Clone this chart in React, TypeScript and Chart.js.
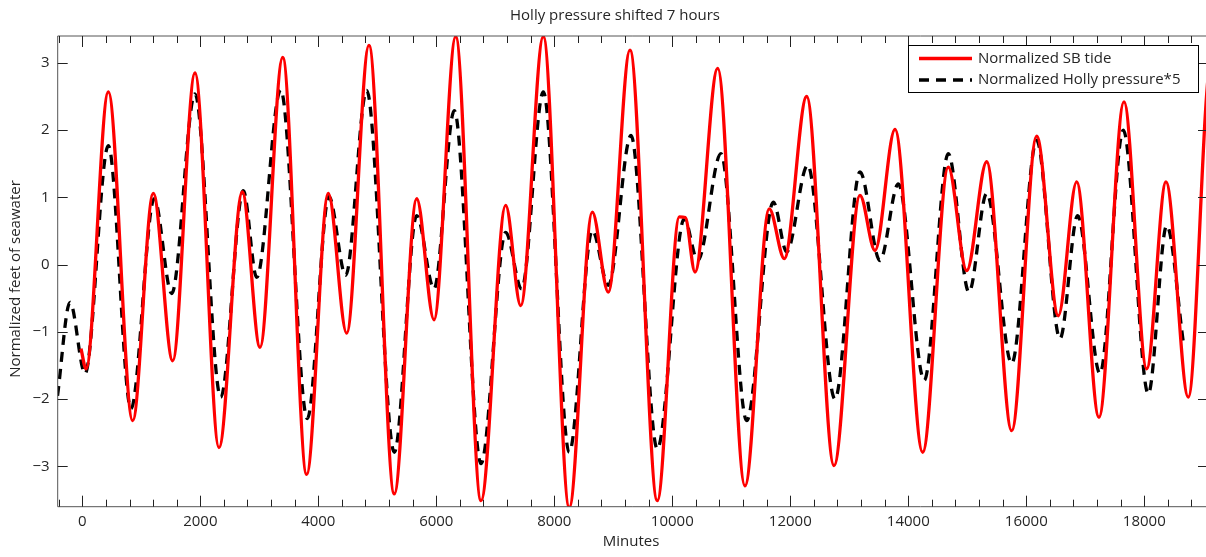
import React, { useEffect, useRef } from "react";
import { Chart, registerables } from "chart.js";

Chart.register(...registerables);

// Normalized SB tide (red, solid): [minutes, value]
const tideX = [-22, 63, 441, 854, 1203, 1532, 1910, 2317, 2712, 3012, 3397, 3803, 4169, 4481, 4859, 5288, 5668, 5961, 6329, 6758, 7176, 7431, 7814, 8254, 8644, 8915, 9283, 9746, 10120, 10220, 10385, 10769, 11232, 11644, 11898, 12278, 12741, 13181, 13436, 13775, 14244, 14678, 14990, 15329, 15753, 16176, 16542, 16854, 17232, 17656, 18041, 18368, 18746, 19130, 19600];
const tideY = [-1.25, -1.55, 2.57, -2.32, 1.06, -1.43, 2.85, -2.72, 1.08, -1.23, 3.08, -3.12, 1.06, -1.02, 3.26, -3.41, 0.98, -0.82, 3.39, -3.51, 0.88, -0.61, 3.39, -3.61, 0.78, -0.41, 3.19, -3.51, 0.71, 0.70, -0.11, 2.92, -3.29, 0.83, 0.09, 2.5, -2.99, 1.03, 0.21, 2.01, -2.79, 1.45, -0.09, 1.53, -2.47, 1.91, -0.76, 1.23, -2.27, 2.42, -1.55, 1.23, -1.97, 3.0, -2.0];

// Normalized Holly pressure*5 (black, dashed): [minutes, value]
const hollyX = [-420, -208, 46, 441, 825, 1220, 1515, 1910, 2346, 2729, 2956, 3363, 3814, 4181, 4464, 4820, 5288, 5668, 5961, 6305, 6758, 7176, 7447, 7814, 8254, 8644, 8915, 9300, 9746, 10203, 10431, 10825, 11261, 11712, 11939, 12295, 12758, 13181, 13520, 13831, 14271, 14678, 15029, 15329, 15753, 16176, 16571, 16871, 17249, 17644, 18068, 18380, 18664];
const hollyY = [-1.95, -0.56, -1.62, 1.77, -2.14, 0.98, -0.43, 2.54, -1.97, 1.1, -0.19, 2.6, -2.29, 1.01, -0.16, 2.59, -2.79, 0.73, -0.36, 2.29, -2.96, 0.48, -0.36, 2.57, -2.79, 0.51, -0.31, 1.92, -2.74, 0.68, 0.06, 1.65, -2.32, 0.93, 0.19, 1.48, -2.0, 1.38, 0.06, 1.2, -1.72, 1.65, -0.41, 1.06, -1.47, 1.85, -1.1, 0.73, -1.62, 2.0, -1.92, 0.58, -1.17];

const xTickValues = [0, 2000, 4000, 6000, 8000, 10000, 12000, 14000, 16000, 18000];
const yTickValues = [-3, -2, -1, 0, 1, 2, 3];

const seriesNames = ["Normalized SB tide", "Normalized Holly pressure*5"];
const chartTitle = "Holly pressure shifted 7 hours";
const xTitle = "Minutes";
const yTitle = "Normalized feet of seawater";

const FONT = "'Open Sans', 'DejaVu Sans', sans-serif";
const TEXT = "#262626";
const AXIS = "#555555";
const DASH = [10, 7];

const fmt = (v: number) => String(v).replace("-", "\u2212");

const decorPlugin = {
  id: "decor",
  afterDraw(chart: any) {
    const { ctx, chartArea: a, scales } = chart;
    const xs = scales.x;
    const ys = scales.y;
    ctx.save();
    // frame
    ctx.strokeStyle = AXIS;
    ctx.lineWidth = 1;
    ctx.beginPath();
    ctx.moveTo(a.left, a.top);
    ctx.lineTo(a.right, a.top);
    ctx.moveTo(a.left, a.top);
    ctx.lineTo(a.left, a.bottom);
    ctx.lineTo(a.right, a.bottom);
    ctx.lineTo(a.right, a.top);
    ctx.stroke();
    // x ticks (inward, top and bottom)
    ctx.strokeStyle = "#222";
    ctx.beginPath();
    for (let v = -400; v <= 19000; v += 400) {
      const px = Math.round(xs.getPixelForValue(v)) + 0.5;
      const len = v % 2000 === 0 ? 11 : 7;
      ctx.moveTo(px, a.bottom);
      ctx.lineTo(px, a.bottom - len);
      ctx.moveTo(px, a.top);
      ctx.lineTo(px, a.top + len);
    }
    for (const v of yTickValues) {
      const py = Math.round(ys.getPixelForValue(v)) + 0.5;
      ctx.moveTo(a.left, py);
      ctx.lineTo(a.left + 10, py);
      ctx.moveTo(a.right, py);
      ctx.lineTo(a.right - 10, py);
    }
    ctx.stroke();

    // titles
    ctx.fillStyle = TEXT;
    ctx.font = `15px ${FONT}`;
    ctx.textAlign = "center";
    ctx.textBaseline = "middle";
    ctx.fillText(chartTitle, 615, 16);
    ctx.fillText(xTitle, 631, 542);
    ctx.save();
    ctx.translate(16, 279);
    ctx.rotate(-Math.PI / 2);
    ctx.fillText(yTitle, 0, 0);
    ctx.restore();

    // legend
    const ds = chart.data.datasets;
    const bx = 908.5, by = 45.5, bw = 290, bh = 47;
    ctx.fillStyle = "#ffffff";
    ctx.fillRect(bx, by, bw, bh);
    ctx.strokeStyle = "#000";
    ctx.lineWidth = 1;
    ctx.strokeRect(bx, by, bw, bh);
    const rows = [58.5, 80];
    ds.forEach((d: any, i: number) => {
      ctx.save();
      ctx.strokeStyle = d.borderColor;
      ctx.lineWidth = d.borderWidth;
      ctx.setLineDash(d.borderDash || []);
      ctx.beginPath();
      ctx.moveTo(919, rows[i]);
      ctx.lineTo(972, rows[i]);
      ctx.stroke();
      ctx.restore();
      ctx.fillStyle = TEXT;
      ctx.font = `15px ${FONT}`;
      ctx.textAlign = "left";
      ctx.textBaseline = "middle";
      ctx.fillText(d.label, 978, rows[i]);
    });
    ctx.restore();
  },
};

export default function App() {
  const ref = useRef<HTMLCanvasElement | null>(null);
  useEffect(() => {
    if (!ref.current) return;
    const chart = new Chart(ref.current, {
      type: "line",
      data: {
        datasets: [
          {
            label: seriesNames[0],
            data: tideX.map((x, i) => ({ x, y: tideY[i] })),
            borderColor: "#ff0000",
            borderWidth: 3.3,
            pointRadius: 0,
            cubicInterpolationMode: "monotone",
            fill: false,
            clip: 0,
          },
          {
            label: seriesNames[1],
            data: hollyX.map((x, i) => ({ x, y: hollyY[i] })),
            borderColor: "#000000",
            borderWidth: 3.3,
            borderDash: DASH,
            pointRadius: 0,
            cubicInterpolationMode: "monotone",
            fill: false,
            clip: 0,
          },
        ],
      },
      options: {
        animation: false,
        responsive: false,
        devicePixelRatio: 1,
        events: [],
        layout: { padding: { top: 36, right: 6, left: 0, bottom: 0 } },
        plugins: {
          legend: { display: false },
          title: { display: false },
          tooltip: { enabled: false },
        },
        scales: {
          x: {
            type: "linear",
            position: "bottom",
            min: -417,
            max: 19080,
            grid: { display: false, drawTicks: false },
            border: { display: false },
            afterBuildTicks: (s: any) => {
              s.ticks = xTickValues.map((v) => ({ value: v }));
            },
            afterFit: (s: any) => {
              s.height = 50.3;
            },
            ticks: {
              padding: 6,
              maxRotation: 0,
              autoSkip: false,
              color: TEXT,
              font: { family: FONT, size: 15 },
              callback: (v: any) => fmt(Number(v)),
            },
          },
          y: {
            type: "linear",
            position: "left",
            min: -3.6,
            max: 3.4,
            grid: { display: false, drawTicks: false },
            border: { display: false },
            afterBuildTicks: (s: any) => {
              s.ticks = yTickValues.map((v) => ({ value: v }));
            },
            afterFit: (s: any) => {
              s.width = 57.7;
            },
            ticks: {
              padding: 8,
              autoSkip: false,
              color: TEXT,
              font: { family: FONT, size: 15 },
              callback: (v: any) => fmt(Number(v)),
            },
          },
        },
      },
      plugins: [decorPlugin],
    } as any);
    return () => chart.destroy();
  }, []);
  return (
    <div style={{ position: "fixed", left: 0, top: 0, width: 1206, height: 557, overflow: "hidden", background: "#fff" }}>
      <canvas ref={ref} width={1214} height={557} style={{ display: "block" }} />
    </div>
  );
}
